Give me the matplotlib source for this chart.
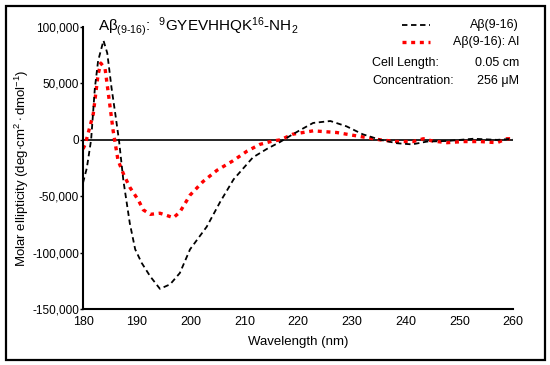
import matplotlib
matplotlib.use("Agg")
import matplotlib.pyplot as plt
from matplotlib.lines import Line2D
from matplotlib.patches import Rectangle
from matplotlib.ticker import FuncFormatter

plt.rcParams["font.family"] = ["Liberation Sans", "DejaVu Sans"]
plt.rcParams["mathtext.fontset"] = "custom"
plt.rcParams["mathtext.rm"] = "Liberation Sans"
plt.rcParams["mathtext.it"] = "Liberation Sans"
plt.rcParams["mathtext.bf"] = "Liberation Sans:bold"

# ---- data ----
wl_peptide = [180, 180.7, 181.5, 182.2, 182.8, 183.8, 184.5, 185.3, 186.0, 186.7,
              187.5, 188.7, 189.7, 190.9, 192.5, 194.3, 196.2, 198.0, 199.9,
              203.0, 205.5, 208.0, 211.6, 214.2, 216.6, 218.5, 220.5, 222.8,
              226.0, 229.0, 232.0, 235.3, 238.4, 241.2, 244.0, 247.7, 252.6,
              257.0, 260]
cd_peptide = [-38000, -25000, 0, 46000, 70000, 88000, 77000, 46000, 23000, -1000,
              -36000, -74000, -97000, -109000, -121000, -132000, -128000, -118000, -97000,
              -77000, -55000, -35000, -15500, -8000, -2000, 3500, 9000, 15000,
              16700, 12000, 5000, 0, -3000, -4000, -1500, -1000, 1000,
              0, 1000]

wl_al = [180, 180.4, 181.9, 182.8, 183.3, 184.1, 184.9, 185.6, 186.5, 187.5,
         188.7, 190.3, 191.2, 192.5, 194.3, 195.6, 196.8, 198.0, 199.9, 202.3,
         204.9, 207.9, 210.5, 212.9, 215.3, 216.7, 219.0, 222.8, 227.2, 230.9,
         235.3, 238.4, 241.4, 243.3, 245.0, 247.7, 250.7, 253.9, 257.0, 258.8, 260]
cd_al = [-8000, -4000, 23000, 58000, 68000, 63000, 34000, 8000, -18000, -30000,
         -42000, -53500, -62000, -66000, -65000, -67000, -69000, -64000, -49000, -37000,
         -27000, -18500, -10000, -4000, -1000, 0, 5000, 8000, 6500, 3500,
         0, -1500, -1500, 1000, -1000, -2500, -1500, -1500, -2500, 1000, 1000]

x_ticks = [180, 190, 200, 210, 220, 230, 240, 250, 260]
y_ticks = [-150000, -100000, -50000, 0, 50000, 100000]

fig = plt.figure(figsize=(5.5, 3.65), dpi=100)
ax = fig.add_axes([0.151, 0.153, 0.782, 0.773])

ax.axhline(0, color="black", lw=1.2, zorder=1)
ax.plot(wl_peptide, cd_peptide, color="black", lw=1.3, ls=(0, (3, 2)), zorder=3)
ax.plot(wl_al, cd_al, color="#ff0000", lw=2.4, ls=(0, (1.2, 1.4)), zorder=2)

ax.set_xlim(180, 260)
ax.set_ylim(-150000, 100000)
ax.set_xticks(x_ticks)
ax.set_yticks(y_ticks)
ax.yaxis.set_major_formatter(FuncFormatter(lambda v, p: f"{int(v):,}"))
ax.tick_params(axis="both", labelsize=9, length=2, width=1, pad=1, direction="out")
ax.tick_params(axis="y", labelsize=8.5)
ax.tick_params(axis="x", length=0, pad=5)
for s in ["top", "right"]:
    ax.spines[s].set_visible(False)
for s in ["left", "bottom"]:
    ax.spines[s].set_linewidth(1.5)

ax.set_xlabel("Wavelength (nm)", fontsize=9.5)
ax.xaxis.set_label_coords(0.5, -0.094)
ax.set_ylabel(r"Molar ellipticity (deg$\cdot$cm$^{2}\cdot$dmol$^{-1}$)", fontsize=9.5)
ax.yaxis.set_label_coords(-0.142, 0.5)
ax.yaxis.label.set_va("center")

# title-like annotation
fig.text(98 / 550, 1 - 27 / 365,
         r"A$\beta_{(9\text{-}16)}$:  $^{9}$GYEVHHQK$^{16}$-NH$_{2}$",
         fontsize=11, ha="left", va="center")

# legend drawn by hand (handles left, labels right-aligned)
leg_rows = [("Aβ(9-16)", "black", (0, (3, 2)), 1.3, 25),
            ("Aβ(9-16): Al", "#ff0000", (0, (1.2, 1.4)), 2.4, 42)]
for label, col, ls, lw, ypx in leg_rows:
    yy = 1 - ypx / 365
    fig.add_artist(Line2D([402 / 550, 430 / 550], [yy, yy], color=col, ls=ls, lw=lw))
    fig.text(519 / 550, yy, label, fontsize=9, ha="right", va="center")

fig.text(372 / 550, 1 - 63 / 365, "Cell Length:", fontsize=9, ha="left", va="center")
fig.text(519 / 550, 1 - 63 / 365, "0.05 cm", fontsize=9, ha="right", va="center")
fig.text(372 / 550, 1 - 81 / 365, "Concentration:", fontsize=9, ha="left", va="center")
fig.text(519 / 550, 1 - 81 / 365, "256 μM", fontsize=9, ha="right", va="center")

# outer frame
fig.add_artist(Rectangle((6 / 550, 1 - 360 / 365), 539 / 550, 354 / 365,
                         transform=fig.transFigure, fill=False, lw=1.6, color="black"))

fig.savefig("out.png", dpi=100)
